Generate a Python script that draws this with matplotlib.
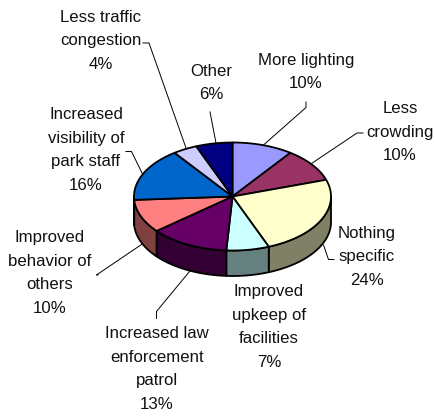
import numpy as np
from matplotlib import pyplot as plt
from matplotlib.patches import Polygon

plt.rcParams['font.family'] = ['Liberation Sans', 'DejaVu Sans']

# data
categories = ['More lighting', 'Less\ncrowding', 'Nothing\nspecific',
              'Improved\nupkeep of\nfacilities', 'Increased law\nenforcement\npatrol',
              'Improved\nbehavior of\nothers', 'Increased\nvisibility of\npark staff',
              'Less traffic\ncongestion', 'Other']
values = [10, 10, 24, 7, 13, 10, 16, 4, 6]

top_colors = ['#9999FF', '#993366', '#FFFFCC', '#CCFFFF', '#660066',
              '#FF8080', '#0066CC', '#CCCCFF', '#000080']
side_colors = ['#4D4D80', '#4D1A33', '#808066', '#668080', '#330033',
               '#804040', '#003366', '#666680', '#000040']

# pie geometry, in pixels
cx, cy = 232.5, 196.5
rx, ry = 98.5, 54
depth = 25.5

label_pos = [(306, 72), (400, 132), (367, 257), (269, 327), (157, 369),
             (49.5, 273), (86, 150), (101, 41), (211, 83)]

leaders = [
    [(306, 102), (306, 107.5), (263.5, 145)],
    [(363, 133), (357, 133), (311.5, 163.5)],
    [(334, 259.5), (328.5, 259.5), (323.5, 245)],
    [(156.5, 318.5), (156.5, 311.5), (189.5, 271.5)],
    [(98, 275), (96.5, 275), (141.5, 244.5)],
    [(126, 151.5), (131.5, 151.5), (142.5, 174)],
    [(143, 43), (149, 43), (186, 148)],
    [(210, 112), (216, 143)],
]


def rim(a0, a1, dy=0):
    # angles clockwise from the top, in degrees
    t = np.radians(np.linspace(a0, a1, max(int(abs(a1 - a0)) * 2, 2)))
    return np.column_stack([cx + rx * np.sin(t), cy - ry * np.cos(t) + dy])


fig = plt.figure(figsize=(4.35, 4.16), dpi=100)
ax = fig.add_axes([0, 0, 1, 1])
ax.set_xlim(0, 435)
ax.set_ylim(416, 0)
ax.axis('off')

bounds = np.cumsum([0] + values) / sum(values) * 360

# side wall, only the front half shows
for i in range(len(values)):
    a0 = max(bounds[i], 90)
    a1 = min(bounds[i + 1], 270)
    if a1 <= a0:
        continue
    pts = np.vstack([rim(a0, a1), rim(a0, a1, depth)[::-1]])
    ax.add_patch(Polygon(pts, closed=True, fc=side_colors[i], ec='black', lw=1.3, joinstyle='round'))

# top face
for i in range(len(values)):
    pts = np.vstack([[(cx, cy)], rim(bounds[i], bounds[i + 1])])
    ax.add_patch(Polygon(pts, closed=True, fc=top_colors[i], ec='black', lw=1.3, joinstyle='round'))

for line in leaders:
    xs, ys = zip(*line)
    ax.plot(xs, ys, color='black', lw=0.7)

for name, val, (x, y) in zip(categories, values, label_pos):
    ax.text(x, y, f'{name}\n{val}%', ha='center', va='center', fontsize=12.1,
            color='#111111', linespacing=1.73)

fig.savefig('out.png', dpi=100)
